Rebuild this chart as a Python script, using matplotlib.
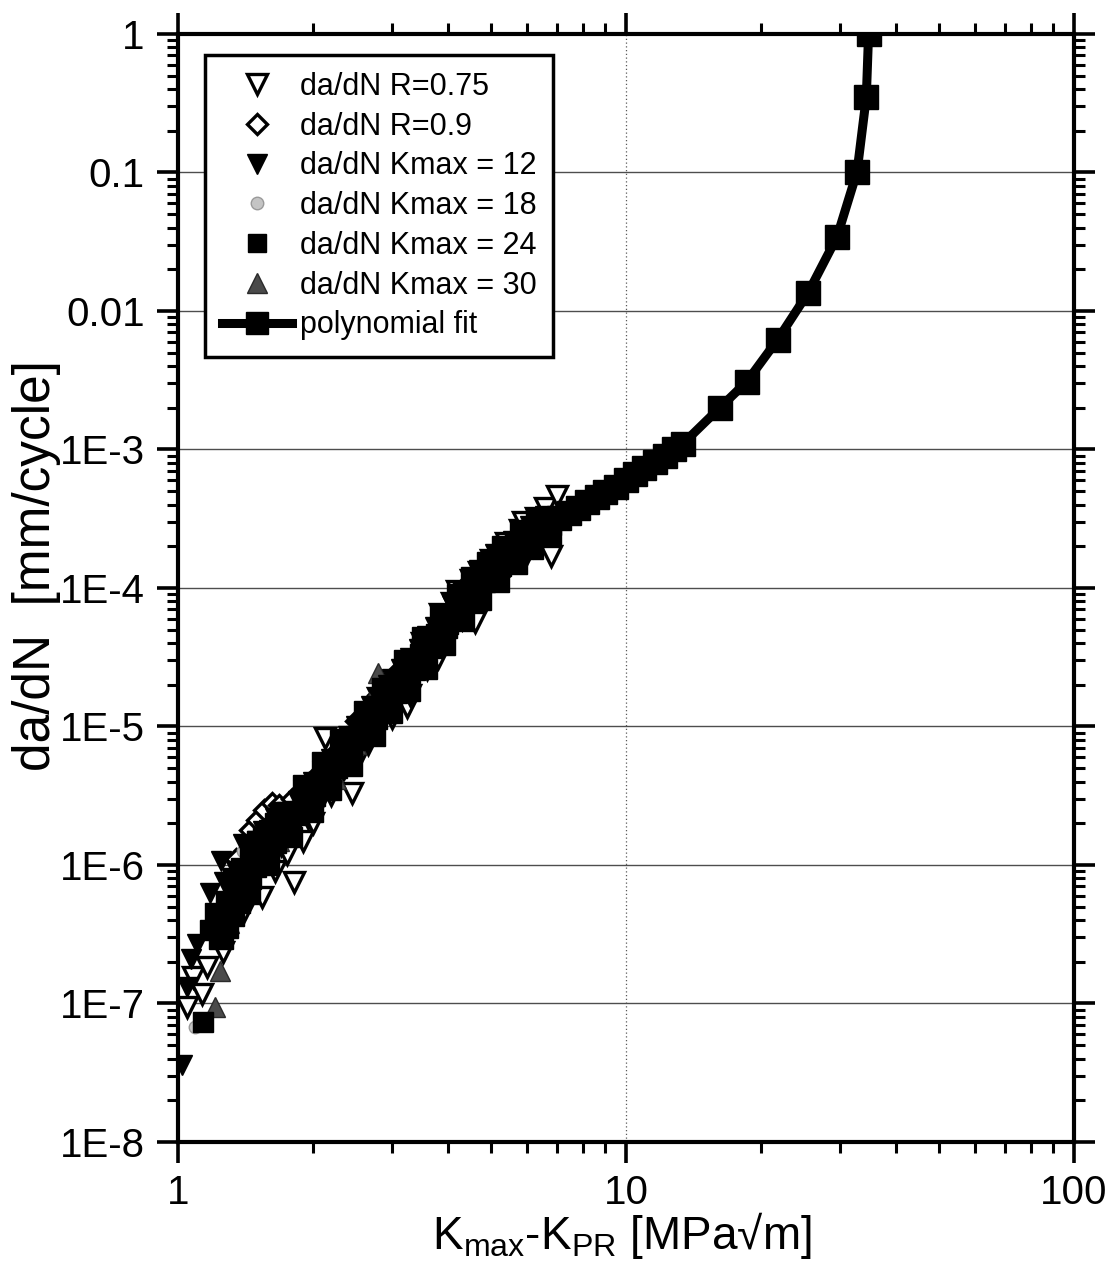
import matplotlib
matplotlib.use('Agg')
import matplotlib.pyplot as plt
from matplotlib.lines import Line2D

plt.rcParams['font.family'] = ['Liberation Sans', 'DejaVu Sans']
plt.rcParams['mathtext.fontset'] = 'custom'
plt.rcParams['mathtext.rm'] = 'Liberation Sans'
plt.rcParams['mathtext.it'] = 'Liberation Sans'

# --- data ---
r075_x = [1.05, 1.08, 1.13, 1.16, 1.26, 1.35, 1.4, 1.45, 1.54, 1.6, 1.65, 1.7, 1.75, 1.82,
          1.90, 1.95, 2.0, 2.05, 2.13, 2.2, 2.25, 2.35, 2.35, 2.44, 2.5, 2.55, 2.65, 2.7,
          2.8, 2.9, 3.0, 3.1, 3.24, 3.3, 3.4, 3.5, 3.6, 3.7, 3.8, 3.85, 3.9, 4.1, 4.2, 4.3,
          4.52, 4.6, 4.7, 4.8, 5.0, 5.2, 5.4, 5.5, 5.6, 5.8, 5.9, 6.0, 6.2, 6.3, 6.5, 6.6,
          6.6, 6.82, 7.03]
r075_y = [9.5e-8, 1.55e-7, 1.17e-7, 1.83e-7, 2.34e-7, 4.2e-7, 4.5e-7, 7.0e-7, 5.9e-7, 1.1e-6,
          9.0e-7, 1.4e-6, 1.2e-6, 7.5e-7, 1.48e-6, 2.2e-6, 2.0e-6, 2.7e-6, 8.3e-6, 3.2e-6,
          4.0e-6, 5.0e-6, 8.0e-6, 3.3e-6, 5.5e-6, 7.5e-6, 7.5e-6, 9.0e-6, 1.6e-5, 1.2e-5,
          1.15e-5, 1.6e-5, 1.39e-5, 1.7e-5, 2.3e-5, 4.0e-5, 2.6e-5, 3.4e-5, 3.1e-5, 6.5e-5,
          4.4e-5, 7.8e-5, 9.5e-5, 6.0e-5, 1.15e-4, 5.7e-5, 1.3e-4, 9.0e-5, 1.6e-4, 1.2e-4,
          2.1e-4, 1.5e-4, 1.6e-4, 2.6e-4, 3.0e-4, 1.8e-4, 2.0e-4, 3.2e-4, 2.9e-4, 2.4e-4,
          3.8e-4, 1.69e-4, 4.6e-4]

r09_x = [1.35, 1.45, 1.5, 1.56, 1.62, 1.68, 1.8, 2.0, 2.25, 2.5, 2.8, 3.1, 3.5, 3.9, 4.3, 4.7, 5.2]
r09_y = [1.1e-6, 1.8e-6, 2.1e-6, 2.5e-6, 2.8e-6, 2.7e-6, 3.0e-6, 4.2e-6, 6.5e-6, 1.1e-5,
         1.7e-5, 2.5e-5, 4.2e-5, 6.2e-5, 9.8e-5, 1.3e-4, 1.8e-4]

k12_x = [1.02, 1.05, 1.07, 1.10, 1.18, 1.25, 1.27, 1.3, 1.35, 1.40, 1.45, 1.5, 1.55, 1.6,
         1.65, 1.75, 1.85, 1.9, 2.0, 2.1, 2.2, 2.3, 2.4, 2.5, 2.6, 2.7, 2.8, 2.95, 3.0, 3.15,
         3.3, 3.45, 3.6, 3.75, 3.9, 4.1, 4.3, 4.5, 4.7, 4.9, 5.1, 5.35, 5.6, 5.85, 6.1, 6.3, 6.6]
k12_y = [3.6e-8, 1.31e-7, 2.08e-7, 2.68e-7, 6.3e-7, 1.07e-6, 7.5e-7, 5.0e-7, 9.0e-7, 1.41e-6,
         1.2e-6, 1.5e-6, 1.75e-6, 1.8e-6, 2.2e-6, 2.3e-6, 2.9e-6, 3.5e-6, 4.0e-6, 4.8e-6,
         5.8e-6, 7.0e-6, 8.5e-6, 1.0e-5, 1.2e-5, 1.4e-5, 1.6e-5, 2.0e-5, 2.2e-5, 2.6e-5,
         3.1e-5, 3.6e-5, 4.5e-5, 5.2e-5, 6.5e-5, 7.5e-5, 9.5e-5, 1.05e-4, 1.35e-4, 1.45e-4,
         1.75e-4, 1.85e-4, 2.2e-4, 2.4e-4, 2.8e-4, 2.7e-4, 3.3e-4]

k18_x = [1.09, 1.2, 1.35, 1.40, 1.55, 1.65, 1.8, 1.95, 2.1, 2.3, 2.5, 2.7, 2.9, 3.15, 3.45,
         3.75, 4.05, 4.4, 4.8, 5.2, 5.7, 6.2]
k18_y = [6.8e-8, 4.0e-7, 7.5e-7, 1.26e-6, 1.3e-6, 1.9e-6, 2.6e-6, 3.4e-6, 4.5e-6, 6.5e-6,
         9.5e-6, 1.35e-5, 1.8e-5, 2.4e-5, 3.4e-5, 4.8e-5, 6.6e-5, 9.5e-5, 1.3e-4, 1.7e-4,
         2.2e-4, 2.7e-4]

k24_x = [1.14, 1.18, 1.21, 1.24, 1.28, 1.33, 1.38, 1.45, 1.45, 1.5, 1.55, 1.6, 1.65, 1.7,
         1.75, 1.8, 1.9, 1.9, 2.0, 2.05, 2.1, 2.2, 2.2, 2.3, 2.35, 2.45, 2.5, 2.6, 2.7, 2.75,
         2.85, 2.9, 3.0, 3.1, 3.2, 3.3, 3.4, 3.5, 3.6, 3.7, 3.85, 3.95, 4.0, 4.2, 4.3, 4.35,
         4.5, 4.6, 4.75, 4.9, 5.0, 5.2, 5.3, 5.4, 5.7, 5.8, 5.9, 6.2, 6.3, 6.4, 6.8]
k24_y = [7.3e-8, 3.4e-7, 4.5e-7, 3.2e-7, 5.5e-7, 8.0e-7, 9.5e-7, 1.2e-6, 6.2e-7, 1.5e-6,
         1.6e-6, 1.0e-6, 2.0e-6, 2.4e-6, 2.4e-6, 1.6e-6, 3.0e-6, 3.8e-6, 2.4e-6, 3.9e-6,
         5.5e-6, 5.0e-6, 3.5e-6, 8.0e-6, 6.4e-6, 5.2e-6, 8.3e-6, 1.3e-5, 1.1e-5, 8.5e-6,
         1.9e-5, 1.5e-5, 1.25e-5, 1.95e-5, 3.0e-5, 1.8e-5, 2.8e-5, 4.4e-5, 2.6e-5, 3.9e-5,
         6.3e-5, 3.9e-5, 5.5e-5, 9.0e-5, 7.5e-5, 5.8e-5, 1.2e-4, 9.8e-5, 8.2e-5, 1.55e-4,
         1.3e-4, 1.1e-4, 2.0e-4, 1.6e-4, 1.5e-4, 2.6e-4, 2.1e-4, 1.9e-4, 3.2e-4, 2.6e-4, 2.4e-4]

k30_x = [1.21, 1.24, 1.3, 1.42, 1.45, 1.52, 1.62, 1.68, 1.72, 1.86, 1.95, 2.02, 2.18, 2.25,
         2.38, 2.5, 2.58, 2.65, 2.72, 2.79, 2.9, 3.0, 3.25, 3.4, 3.55, 3.7, 3.85, 4.0, 4.2,
         4.4, 4.6, 4.8, 5.0, 5.3, 5.5, 5.8, 6.0, 6.5]
k30_y = [9.4e-8, 1.71e-7, 3.8e-7, 9.0e-7, 8.0e-7, 1.25e-6, 1.6e-6, 1.5e-6, 2.1e-6, 2.7e-6,
         2.6e-6, 3.5e-6, 4.6e-6, 4.2e-6, 6.8e-6, 7.5e-6, 1.05e-5, 1.3e-5, 1.65e-5, 2.45e-5,
         1.5e-5, 2.1e-5, 2.9e-5, 3.4e-5, 4.2e-5, 4.9e-5, 5.8e-5, 6.8e-5, 8.0e-5, 1.0e-4,
         1.1e-4, 1.25e-4, 1.45e-4, 1.7e-4, 1.9e-4, 2.2e-4, 2.4e-4, 2.9e-4]

fit_x = [1.25, 1.28, 1.32, 1.36, 1.40, 1.44, 1.48, 1.53, 1.58, 1.64, 1.70, 1.77, 1.84, 1.92,
         2.00, 2.08, 2.16, 2.24, 2.33, 2.42, 2.52, 2.62, 2.75, 2.85, 2.95, 3.05, 3.2, 3.35,
         3.5, 3.65, 3.8, 3.95, 4.1, 4.25, 4.42, 4.6, 4.8, 5.0, 5.22, 5.45, 5.7, 5.95, 6.2,
         6.45, 6.75, 7.1, 7.45, 7.8, 8.2, 8.6, 9.0, 9.5, 10.0, 10.5, 11.0, 11.6, 12.2, 12.8,
         13.4, 16.2, 18.6, 21.8, 25.5, 29.6, 32.8, 34.4, 34.8]
fit_y = [3.0e-7, 3.6e-7, 4.4e-7, 5.5e-7, 6.8e-7, 8.2e-7, 1.0e-6, 1.14e-6, 1.29e-6, 1.5e-6,
         1.73e-6, 2.03e-6, 2.36e-6, 2.8e-6, 3.28e-6, 3.83e-6, 4.45e-6, 5.14e-6, 6.0e-6,
         6.97e-6, 8.2e-6, 9.5e-6, 1.17e-5, 1.36e-5, 1.57e-5, 1.8e-5, 2.2e-5, 2.66e-5,
         3.2e-5, 3.81e-5, 4.51e-5, 5.3e-5, 6.2e-5, 7.2e-5, 8.5e-5, 1.0e-4, 1.15e-4, 1.3e-4,
         1.5e-4, 1.7e-4, 1.95e-4, 2.2e-4, 2.45e-4, 2.7e-4, 2.95e-4, 3.2e-4, 3.5e-4, 3.8e-4,
         4.15e-4, 4.5e-4, 4.9e-4, 5.4e-4, 6.0e-4, 6.6e-4, 7.3e-4, 8.1e-4, 9.0e-4, 1.0e-3,
         1.1e-3, 2.0e-3, 3.08e-3, 6.2e-3, 1.35e-2, 3.43e-2, 0.101, 0.351, 1.0]

labels = ['da/dN R=0.75', 'da/dN R=0.9', 'da/dN Kmax = 12', 'da/dN Kmax = 18',
          'da/dN Kmax = 24', 'da/dN Kmax = 30', 'polynomial fit']
y_ticks = [1e-8, 1e-7, 1e-6, 1e-5, 1e-4, 1e-3, 0.01, 0.1, 1]
y_tick_labels = ['1E-8', '1E-7', '1E-6', '1E-5', '1E-4', '1E-3', '0.01', '0.1', '1']
x_ticks = [1, 10, 100]
x_tick_labels = ['1', '10', '100']

fig = plt.figure(figsize=(11.13, 12.67), dpi=100)
ax = fig.add_axes([0.1599, 0.0987, 0.8050, 0.8745])
ax.set_xscale('log')
ax.set_yscale('log')

# grid
ax.grid(True, which='major', axis='y', color='0.3', lw=1.0, zorder=0)
ax.grid(True, which='major', axis='x', color='0.35', lw=0.9, ls=(0, (1, 2)), zorder=0)

ms_tri = 15
ax.plot(r075_x, r075_y, 'v', ms=ms_tri, mfc='white', mec='black', mew=2.4, zorder=3)
ax.plot(r09_x, r09_y, 'D', ms=10, mfc='white', mec='black', mew=2.4, zorder=3)
ax.plot(k18_x, k18_y, 'o', ms=9, mfc='#c4c4c4', mec='#9a9a9a', mew=1, zorder=3)
ax.plot(k30_x, k30_y, '^', ms=ms_tri, mfc='#4a4a4a', mec='#2a2a2a', mew=1, zorder=3)
ax.plot(k12_x, k12_y, 'v', ms=ms_tri, mfc='black', mec='black', mew=1, zorder=3)
ax.plot(k24_x, k24_y, 's', ms=14, mfc='black', mec='black', zorder=3)
ax.plot(fit_x, fit_y, '-s', color='black', lw=6.5, ms=17, zorder=4)

ax.set_xlim(1, 100)
ax.set_ylim(1e-8, 1)
ax.set_yticks(y_ticks)
ax.set_yticklabels(y_tick_labels)
ax.set_xticks(x_ticks)
ax.set_xticklabels(x_tick_labels)

for s in ax.spines.values():
    s.set_linewidth(3)
ax.tick_params(which='major', direction='out', length=15, width=2.6,
               top=True, right=True, labelsize=29, pad=9)
ax.tick_params(which='minor', direction='out', length=8, width=2.2, top=True, right=True)
ax.tick_params(axis='x', which='major', labelsize=29, pad=8)

ax.set_ylabel('da/dN  [mm/cycle]', fontsize=37)
ax.yaxis.set_label_coords(-0.13, 0.52)
fig.text(0.559, 0.0142, r'K$_{\mathrm{max}}$-K$_{\mathrm{PR}}$ [MPa√m]',
         fontsize=33, ha='center', va='baseline')

handles = [
    Line2D([], [], ls='none', marker='v', ms=ms_tri, mfc='white', mec='black', mew=2.4),
    Line2D([], [], ls='none', marker='D', ms=10, mfc='white', mec='black', mew=2.4),
    Line2D([], [], ls='none', marker='v', ms=ms_tri, mfc='black', mec='black'),
    Line2D([], [], ls='none', marker='o', ms=9, mfc='#c4c4c4', mec='#9a9a9a'),
    Line2D([], [], ls='none', marker='s', ms=13, mfc='black', mec='black'),
    Line2D([], [], ls='none', marker='^', ms=ms_tri, mfc='#4a4a4a', mec='#2a2a2a'),
    Line2D([], [], ls='-', marker='s', color='black', lw=6.5, ms=16),
]
leg = ax.legend(handles, labels, loc='upper left', bbox_to_anchor=(0.03, 0.981),
                borderaxespad=0, fontsize=22, labelspacing=0.32, handlelength=2.3,
                handletextpad=0.25, borderpad=0.55, fancybox=False, framealpha=1)
leg.get_frame().set_edgecolor('black')
leg.get_frame().set_linewidth(2.5)

plt.savefig('out.png', dpi=100)
